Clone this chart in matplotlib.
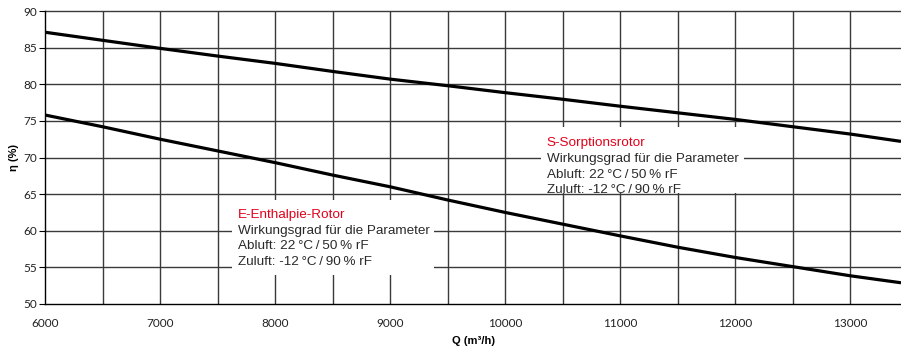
import matplotlib
matplotlib.use('Agg')
from matplotlib import pyplot as plt
from matplotlib.patches import Rectangle

# flow rate Q (m3/h)
q = [6000, 6500, 7000, 7500, 8000, 8500, 9000, 9500, 10000, 10500,
     11000, 11500, 12000, 12500, 13000, 13440]
# efficiency S-Sorptionsrotor (%)
eta_s = [87.1, 86.0, 84.9, 83.85, 82.85, 81.75, 80.7, 79.8, 78.85, 77.95,
         77.0, 76.1, 75.2, 74.2, 73.2, 72.2]
# efficiency E-Enthalpie-Rotor (%)
eta_e = [75.8, 74.2, 72.5, 70.9, 69.3, 67.6, 66.0, 64.2, 62.5, 60.9,
         59.3, 57.75, 56.35, 55.1, 53.85, 52.9]

xticks = [6000, 7000, 8000, 9000, 10000, 11000, 12000, 13000]
yticks = [50, 55, 60, 65, 70, 75, 80, 85, 90]

s_lines = ['S-Sorptionsrotor', 'Wirkungsgrad für die Parameter',
           'Abluft: 22\u2009°C\u2009/\u200950\u2009% rF',
           'Zuluft: -12\u2009°C\u2009/\u200990\u2009% rF']
e_lines = ['E-Enthalpie-Rotor', 'Wirkungsgrad für die Parameter',
           'Abluft: 22\u2009°C\u2009/\u200950\u2009% rF',
           'Zuluft: -12\u2009°C\u2009/\u200990\u2009% rF']

plt.rcParams['font.family'] = ['Liberation Sans', 'DejaVu Sans']

fig = plt.figure(figsize=(9.01, 3.46), dpi=100)
ax = fig.add_axes([45/901, 1-304/346, 856/901, 293/346])

ax.set_xlim(6000, 13440)
ax.set_ylim(50, 90)

# grid
for gx in range(6500, 13440, 500):
    ax.axvline(gx, color='#3a3a3a', lw=1.0, zorder=1)
for gy in range(55, 91, 5):
    ax.axhline(gy, color='#3a3a3a', lw=1.0, zorder=1, clip_on=False)

# white label boxes
ax.add_patch(Rectangle((7625, 54.0), 1760, 10.2, facecolor='white',
                       edgecolor='none', zorder=2))
ax.add_patch(Rectangle((10315, 65.2), 1760, 9.0, facecolor='white',
                       edgecolor='none', zorder=2))

ax.plot(q, eta_s, color='black', lw=2.3, zorder=3, solid_capstyle='butt')
ax.plot(q, eta_e, color='black', lw=2.3, zorder=3, solid_capstyle='butt')

def label_block(x0, y0, lines):
    for i, t in enumerate(lines):
        ax.text(x0, y0 - i*2.15, t, fontsize=9.7, va='center', ha='left',
                color='#e3001b' if i == 0 else '#2a2a2a', zorder=4)

label_block(10360, 71.95, s_lines)
label_block(7680, 62.15, e_lines)

ax.set_xticks(xticks)
ax.set_yticks(yticks)
ax.tick_params(axis='x', length=0, pad=10, labelsize=8.5, labelcolor='#222222')
ax.tick_params(axis='y', length=4, width=0.8, pad=2, labelsize=8.5,
               labelcolor='#222222')
for lab in ax.get_xticklabels() + ax.get_yticklabels():
    lab.set_family(['Lato', 'DejaVu Sans'])

ax.spines['right'].set_visible(False)
ax.spines['top'].set_visible(False)
ax.spines['left'].set_linewidth(1.0)
ax.spines['bottom'].set_linewidth(1.0)

ax.set_ylabel('η (%)', fontsize=8, fontweight='bold', labelpad=3)
ax.set_xlabel('Q (m³/h)', fontsize=8, fontweight='bold', labelpad=5)

fig.savefig('out.png', dpi=100)
